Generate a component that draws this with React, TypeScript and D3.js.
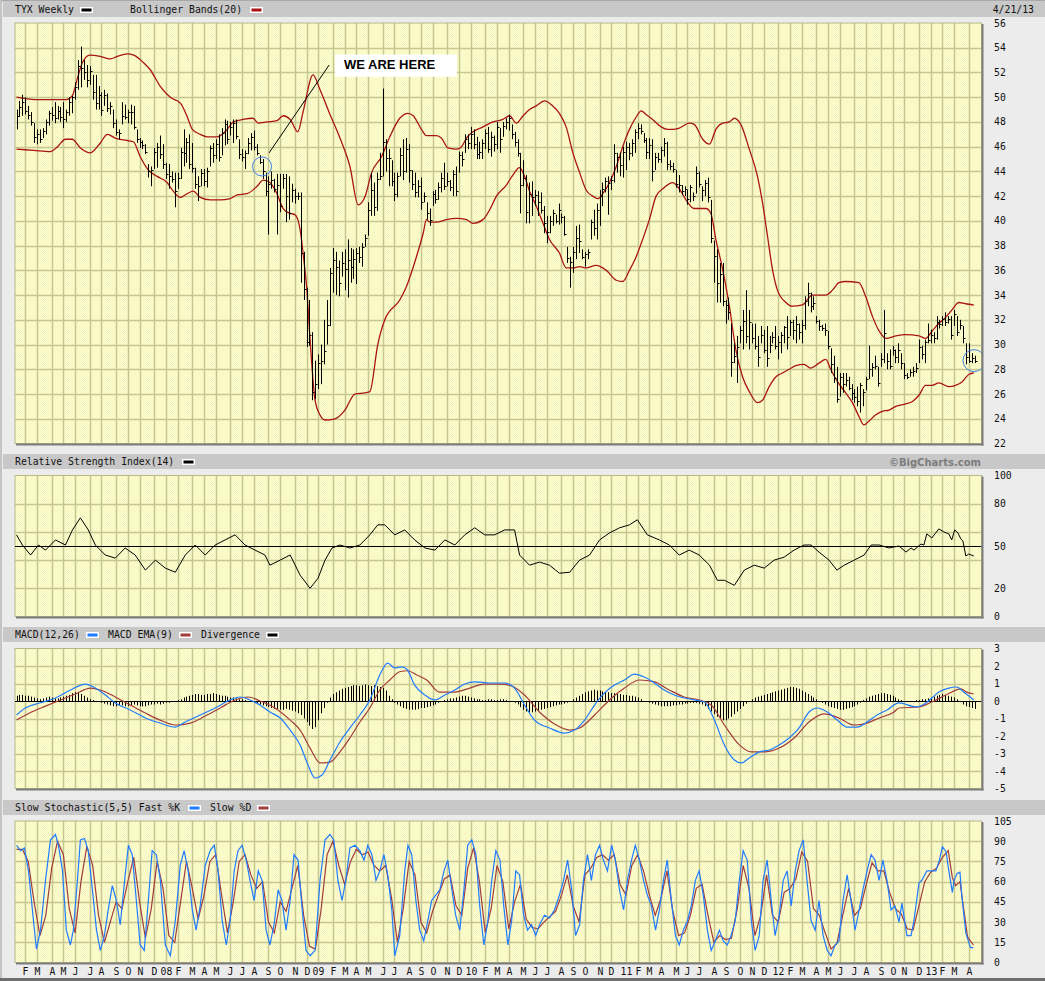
import React from "react";
import * as d3 from "d3";

// first weekly bar (Friday) — one bar per week, 328 bars
const FIRST_WEEK = new Date(2007, 0, 12);

// [high, low, close] per week (TYX = 30y yield x10)
const BARS: [number, number, number][] = [
  [49.0,47.4,48.5],[49.7,48.4,49.2],[50.2,48.5,49.6],[50.0,48.6,48.9],[49.3,48.2,48.6],[48.8,47.7,48.0],[47.9,46.3,46.8],[47.4,46.2,47.0],[47.4,46.3,46.6],[47.5,46.7,47.3],
  [48.2,47.0,48.0],[48.9,47.7,48.7],[49.2,48.1,48.6],[49.6,47.9,48.3],[49.3,48.2,48.9],[49.2,48.0,48.4],[49.6,47.5,48.2],[49.0,48.0,48.8],[50.0,48.5,49.6],[50.1,48.7,50.0],
  [51.2,49.8,50.8],[53.0,50.6,52.5],[54.1,50.8,52.4],[53.0,51.4,52.0],[52.6,50.8,51.4],[52.5,51.0,52.1],[51.8,49.8,50.4],[51.8,49.0,49.5],[50.9,49.0,50.2],[50.4,48.5,49.0],
  [50.6,49.3,50.2],[50.3,48.8,49.1],[49.6,48.6,49.3],[49.0,47.5,47.9],[48.2,46.9,47.2],[47.4,46.6,47.1],[49.6,47.8,48.5],[49.4,48.2,48.4],[49.0,47.9,48.8],[49.4,47.8,48.8],
  [49.3,47.4,47.6],[47.4,46.3,46.6],[46.7,45.9,46.4],[46.5,45.8,46.1],[46.2,45.4,45.6],[44.6,43.5,44.0],[44.4,42.8,44.1],[45.9,44.2,45.6],[46.3,44.3,46.0],[46.9,45.0,45.4],
  [46.2,44.2,44.6],[44.7,43.4,43.8],[44.6,42.6,43.6],[44.0,43.1,43.4],[43.9,41.1,42.4],[43.9,42.6,43.5],[45.9,43.4,45.6],[47.4,44.4,45.5],[46.7,44.7,46.4],[47.0,44.2,44.6],
  [46.3,43.9,44.3],[44.3,42.6,43.0],[43.6,41.6,42.8],[44.2,42.8,43.9],[44.2,42.8,43.2],[44.3,42.7,44.0],[46.1,44.4,45.9],[46.3,44.7,45.3],[46.6,45.0,46.2],[47.0,44.8,45.2],
  [47.5,45.3,47.1],[48.2,46.1,47.8],[48.1,46.2,46.6],[48.0,46.9,47.6],[48.2,46.3,47.9],[48.2,46.6,46.9],[46.6,45.0,45.4],[45.8,44.8,45.2],[45.7,44.2,45.5],[46.7,45.4,46.3],
  [47.1,45.7,46.8],[47.3,45.7,46.0],[46.2,45.3,45.5],[45.3,44.6,44.8],[45.0,43.4,44.0],[43.9,42.0,42.4],[43.6,38.9,43.0],[44.0,42.6,43.3],[43.4,42.3,42.6],[43.8,38.9,42.9],
  [43.8,40.7,41.2],[43.8,42.6,43.5],[43.8,39.9,42.0],[43.6,40.1,40.6],[43.0,41.5,42.5],[42.6,41.4,42.0],[42.3,41.7,42.0],[42.3,35.0,37.4],[37.5,33.6,34.5],[34.6,29.8,30.2],
  [33.6,29.9,30.8],[31.0,25.5,26.2],[28.7,25.6,26.8],[29.2,26.4,28.5],[30.0,26.8,28.7],[32.0,28.4,29.5],[33.6,30.0,31.6],[36.2,31.5,35.8],[37.8,34.2,36.8],[37.5,34.0,36.3],
  [36.8,33.9,35.0],[37.5,35.5,36.6],[37.7,34.4,36.1],[38.5,33.8,36.8],[37.8,35.0,36.3],[37.7,35.3,36.9],[37.8,34.9,37.4],[37.9,36.6,37.1],[38.2,36.3,37.9],[38.9,37.9,38.6],
  [41.5,38.8,40.9],[43.9,40.4,42.5],[43.1,40.4,41.1],[43.9,40.8,43.4],[45.5,43.3,43.6],[50.7,43.6,46.4],[46.6,44.0,45.1],[45.8,42.8,45.1],[44.9,42.8,43.2],[43.9,41.6,42.2],
  [43.9,41.9,43.6],[45.9,43.6,45.3],[46.6,43.3,44.0],[46.7,43.9,45.8],[46.2,43.1,44.1],[44.1,42.5,43.0],[43.9,41.9,42.3],[43.3,41.9,42.8],[43.5,40.9,41.5],[42.3,41.5,42.0],
  [41.5,40.1,40.6],[41.0,39.6,40.1],[42.4,41.2,42.2],[42.5,41.4,41.8],[43.1,41.7,42.7],[43.9,42.3,43.5],[44.7,42.5,42.8],[43.9,42.8,43.2],[43.3,42.4,42.7],[44.1,42.0,43.8],
  [44.4,42.0,42.4],[45.6,43.9,45.3],[45.6,44.4,45.0],[47.0,45.5,46.6],[47.0,45.8,46.3],[47.6,45.8,47.0],[47.4,45.8,46.2],[46.8,45.0,45.4],[46.4,45.0,45.6],[46.6,45.0,46.3],
  [47.4,45.8,47.1],[47.6,45.5,45.8],[47.2,45.2,46.8],[46.9,45.6,46.2],[48.0,45.8,47.6],[47.5,45.5,46.6],[48.0,46.8,47.7],[48.3,47.4,48.0],[48.6,47.3,48.3],[47.8,46.6,47.0],
  [47.2,46.0,46.4],[46.6,45.2,45.5],[45.5,40.6,42.9],[44.9,42.8,43.5],[43.7,39.8,40.7],[43.1,39.8,42.2],[43.2,40.4,41.9],[42.5,41.2,42.1],[42.4,40.4,41.5],[42.3,40.6,40.9],
  [41.2,39.0,39.8],[40.4,38.2,39.1],[40.4,39.0,40.0],[40.9,39.6,40.6],[40.5,39.8,40.0],[41.4,39.7,40.9],[40.6,39.8,40.3],[40.4,38.8,38.9],[37.9,36.6,37.0],[37.1,34.6,36.7],
  [37.9,35.8,37.5],[39.6,36.9,38.6],[39.7,37.4,38.4],[37.7,36.9,37.1],[37.5,36.3,37.3],[37.7,36.9,37.5],[40.1,38.5,39.9],[40.9,38.8,39.4],[41.4,38.5,40.9],[42.5,39.6,42.0],
  [43.1,41.2,42.6],[43.5,42.3,43.2],[43.6,40.5,43.1],[43.6,42.5,43.3],[46.2,43.1,45.5],[45.5,43.9,45.2],[45.5,43.6,44.5],[46.0,43.5,45.6],[46.4,44.1,46.0],[46.3,44.9,45.5],
  [46.6,45.2,46.3],[47.4,45.5,47.2],[47.9,46.6,47.5],[47.8,47.0,47.3],[47.1,46.3,46.5],[46.7,45.0,45.6],[46.7,45.0,46.1],[46.6,43.2,44.0],[45.5,44.1,45.2],[45.5,44.7,45.0],
  [46.0,44.7,45.7],[46.7,45.2,46.3],[46.4,44.1,44.6],[44.9,44.1,44.4],[44.7,43.9,44.2],[44.1,42.7,43.0],[43.7,42.3,42.9],[42.9,42.1,42.4],[42.8,42.0,42.6],[42.5,41.3,41.8],
  [42.9,41.5,42.7],[42.3,41.6,42.0],[44.4,42.2,43.9],[44.0,42.7,43.0],[42.8,41.6,42.5],[43.3,42.0,43.1],[43.5,41.5,41.9],[41.7,38.2,38.6],[38.4,35.0,37.2],[37.7,33.4,35.0],
  [36.6,33.4,35.7],[36.6,33.1,33.5],[33.6,31.7,33.2],[33.8,32.0,32.6],[31.7,27.4,28.6],[30.1,28.5,29.1],[30.7,26.9,29.8],[31.5,30.1,31.2],[32.8,29.6,31.9],[34.4,30.1,30.7],
  [32.8,29.6,31.8],[31.7,30.1,30.5],[31.7,29.6,29.9],[30.7,28.2,29.0],[31.5,30.1,30.8],[31.2,29.3,29.6],[31.5,28.2,28.9],[30.7,29.3,30.0],[31.0,30.1,30.6],[31.5,29.6,29.9],
  [30.7,28.8,30.2],[31.0,29.3,30.8],[31.5,30.1,31.4],[32.3,29.6,30.6],[32.0,30.7,31.8],[32.0,30.4,31.2],[32.3,30.1,31.7],[31.7,30.4,31.0],[32.0,30.1,31.6],[33.9,31.2,33.5],
  [35.0,33.1,34.2],[34.2,32.6,33.1],[33.9,32.8,33.4],[32.3,31.7,31.9],[32.0,31.1,31.5],[31.6,31.1,31.3],[31.7,30.7,31.2],[31.1,29.6,29.9],[29.7,27.7,28.4],[29.1,26.9,27.3],
  [28.2,25.3,25.6],[27.7,25.8,27.4],[27.7,26.1,26.8],[27.7,26.6,27.1],[27.4,26.3,26.5],[26.8,25.5,26.1],[26.4,25.3,25.8],[26.6,25.0,25.4],[26.9,24.5,26.7],[26.4,25.0,26.2],
  [27.4,26.3,27.2],[29.9,27.2,28.0],[28.5,27.4,28.2],[29.1,28.0,28.3],[28.2,26.6,26.9],[29.3,28.2,28.8],[32.8,28.5,30.9],[29.3,28.0,28.7],[29.6,28.0,28.3],[29.9,29.1,29.6],
  [29.6,28.5,29.0],[30.1,28.5,29.6],[29.3,28.0,28.5],[28.5,27.2,27.5],[27.7,27.2,27.4],[28.0,27.4,27.8],[28.2,27.4,27.9],[28.5,27.7,28.1],[30.4,28.5,29.8],[29.9,28.8,29.2],
  [30.4,28.5,30.2],[31.7,30.1,30.4],[31.2,30.1,30.8],[31.0,30.1,30.5],[32.3,30.4,31.8],[32.0,31.3,31.7],[32.3,31.5,32.1],[32.6,31.5,31.8],[32.3,31.7,32.1],[32.3,30.4,30.8],
  [32.8,31.5,32.5],[32.3,30.7,31.0],[32.0,31.2,31.6],[31.5,30.1,30.5],[30.1,28.4,29.0],[30.1,28.5,28.7],[29.3,28.5,28.9],[29.1,28.5,28.7]
];

// Bollinger Bands(20): [week, value]
const BB_UPPER: [number, number][] = [
  [0,50.0],[6.5,49.8],[9,49.8],[17,49.8],[19,50.1],[21,51.7],[22.5,52.8],[25,53.4],[28.6,53.3],[32,53.1],[34.4,53.3],[37.8,53.5],[40,53.4],
  [43.3,52.8],[45.7,52.2],[49,50.9],[52.5,50.0],[56,49.5],[58.3,48.4],[60,47.4],[62.7,47.0],[65,46.8],[68.5,46.8],[71.9,47.4],[74,48.0],
  [77.3,48.2],[80.7,48.3],[82.5,47.9],[85.5,48.0],[88.9,48.1],[91,48.5],[93.4,48.2],[96,47.2],[97.8,48.8],[101.2,51.8],[103.6,50.6],
  [107,48.6],[110.4,46.7],[113.8,44.4],[116.6,41.3],[119,42.0],[121.2,43.9],[124.6,45.2],[127.4,46.8],[130.8,48.3],[133.6,48.7],[135.4,48.5],
  [138.2,47.4],[139.9,46.9],[143.3,46.9],[145,46.7],[147.3,45.9],[150.2,45.8],[151.9,46.0],[153.6,46.7],[155.8,47.2],[159.2,47.6],[162.6,48.0],
  [166,48.2],[168.3,48.5],[170.6,47.9],[172.9,48.5],[175.1,49.0],[177.4,49.3],[180.2,49.7],[183,49.3],[185.3,48.7],[187.6,47.6],[189.9,45.5],
  [192.2,43.9],[194.4,42.5],[196.7,42.0],[198.4,41.8],[200.1,42.2],[202.4,43.1],[204.7,44.4],[206.9,46.0],[209.2,47.4],[211.5,48.4],[213.2,48.9],
  [214.9,48.6],[217.1,48.2],[220,47.6],[222.2,47.4],[223.9,47.4],[226.2,47.5],[229.6,47.9],[231.3,47.8],[234.2,46.6],[236.5,46.2],[238.7,47.4],
  [241,47.9],[243.3,48.0],[245,48.3],[247.2,47.8],[250.1,45.8],[252.9,43.6],[254.6,41.5],[256.3,38.8],[258,36.1],[259.7,34.4],[262.6,33.4],
  [264.8,33.1],[268.2,33.2],[271.6,34.0],[276.2,34.0],[278.5,34.4],[280.7,35.0],[283,35.1],[287.5,35.0],[289.8,33.9],[292.1,32.3],[294.4,31.1],
  [296.7,30.5],[300.1,30.7],[303.5,30.8],[308,30.7],[310.3,30.5],[312.5,31.1],[314.8,31.7],[317.1,32.2],[319.3,32.8],[321.6,33.4],[323.9,33.3],[326.7,33.2]
];
const BB_LOWER: [number, number][] = [
  [0,45.8],[5.8,45.7],[11.6,45.6],[14,46.0],[16.7,46.6],[19,46.6],[21.8,45.9],[25.2,45.5],[28.6,46.3],[31,47.0],[33.7,46.7],[37.8,46.5],[39.9,46.4],
  [42.2,45.2],[45,44.1],[48,43.6],[51.4,43.1],[53.5,42.4],[55.9,41.9],[58.3,42.2],[60.3,42.4],[62.7,41.9],[66.1,41.7],[69.5,41.7],[72.9,41.8],
  [75.3,42.1],[78.7,42.2],[82.1,42.8],[84.2,43.3],[86.5,43.1],[88.9,42.2],[91,41.0],[93.4,40.6],[95,40.5],[96.8,39.3],[97.8,37.4],[99.1,34.4],
  [100.2,30.4],[101.9,25.5],[103.6,24.3],[105.3,23.9],[108.7,24.0],[112.1,24.7],[115.5,26.0],[118.9,26.1],[120.6,26.2],[123.3,30.0],[125.7,32.0],
  [130.8,33.6],[133.1,34.7],[136.5,37.1],[138.8,39.0],[139.9,40.1],[141,39.9],[143.3,39.9],[146.7,40.1],[150.2,40.2],[153.6,40.1],[155.8,39.8],
  [159.2,40.1],[161.5,40.9],[163.8,42.0],[167.2,42.9],[169.4,43.7],[171.7,44.3],[173.4,43.6],[175.1,42.4],[177.4,41.2],[179.7,39.8],[181.9,38.5],
  [185.3,37.4],[187.6,36.2],[189.9,36.2],[192.2,36.3],[194.4,36.2],[197.8,36.4],[201.3,36.0],[204.7,35.2],[206.9,35.1],[209.2,36.0],[211.5,37.1],
  [213.7,38.5],[216,40.1],[218.3,42.0],[221.1,42.7],[223.9,43.1],[226.2,42.6],[228.5,41.7],[231.3,41.0],[235.3,41.0],[237,40.6],[238.7,38.5],
  [241,36.1],[243.3,33.1],[245.5,29.6],[247.8,27.4],[250.1,26.2],[252.9,25.3],[254.6,25.5],[256.9,26.6],[259.2,27.4],[261.4,27.7],[263.7,28.0],
  [266,28.3],[268.8,28.4],[271,28.1],[273.9,28.5],[276.2,28.8],[277.9,28.0],[280.2,27.0],[283,26.1],[285.3,25.3],[287.5,24.2],[289.2,23.5],
  [290.9,23.8],[293.2,24.3],[295.5,24.6],[297.8,24.7],[300.1,25.0],[303.5,25.2],[305.8,25.4],[308,25.9],[310.3,26.7],[312.5,26.7],[314.8,26.9],
  [318.2,26.6],[320.5,26.7],[322.8,27.0],[325.1,27.6],[326.7,27.7]
];

// Relative Strength Index(14)
const RSI14: [number, number][] = [
  [0,57.9],[2,50.7],[4.8,43.6],[7.5,50.7],[9.9,47.1],[13.3,54.3],[16.7,50.7],[19.1,61.4],[21.8,70],[24.5,61.4],[26.9,50.7],[30.3,43.6],[33.7,41.4],
  [37.1,48.6],[40.5,43.6],[44,32.9],[47.4,40],[50.8,34.3],[54.2,31.4],[57.6,43.6],[61,50.7],[64.4,43.6],[67.8,50.7],[71.2,54.3],[74.6,57.9],
  [78,50.7],[81.4,47.1],[84.8,43.6],[86.5,36.4],[90,40],[93.4,43.6],[96.8,29.3],[100.2,20],[102.9,27.1],[105.3,40],[107.7,48.6],[110.4,50.7],
  [113.8,48.6],[117.2,50.7],[120.6,57.9],[123.3,65],[125.7,65],[129.1,57.9],[132.5,61.4],[135.9,54.3],[139.4,48.6],[142.8,47.1],[146.2,54.3],
  [149.6,50.7],[153,57.9],[156.4,62.9],[159.8,57.9],[163.2,57.9],[166.6,61.4],[170,61.4],[171.7,43.6],[175.1,36.4],[178.5,38.6],[181.9,36.4],
  [185.3,30.7],[188.8,31.4],[192.2,40],[195.6,43.6],[199,54.3],[202.4,59.3],[205.8,62.9],[209.2,65],[211.9,68.6],[215.3,57.9],[219.4,54.3],
  [222.8,50.7],[226.2,43.6],[229.6,47.1],[233,43.6],[236.5,36.4],[239.2,25.7],[241.6,25.7],[245,22.1],[248.4,32.9],[251.8,36.4],[255.2,34.3],
  [258.6,40],[262,42.1],[265.4,47.1],[268.8,50.7],[271.2,50.7],[273.9,45.7],[277.3,40],[280,32.9],[282.5,36.4],[285.9,40],[289.3,43.6],
  [291.7,50.7],[294.4,50.7],[297.8,48.6],[301.2,50],[303.6,45.7],[305.3,48.6],[306.3,47.1],[308.7,51.4],[309.7,50.7],[310.7,58.6],[312.4,55.7],
  [314.8,62.1],[316.5,60],[318.2,58.6],[319.2,54.3],[320.2,61.4],[321.3,59.3],[322.3,55],[323,53.6],[324,42.9],[325,44.3],[326.7,42.9]
];

// MACD(12,26) and MACD EMA(9)
const MACD_LINE: [number, number][] = [
  [0,-0.8],[3,-0.4],[8.2,-0.1],[13.3,0.17],[18.4,0.63],[23.5,0.97],[26.9,0.74],[30.3,0.34],[33.7,-0.11],[38.8,-0.51],[44,-0.97],[49,-1.26],
  [54.2,-1.49],[57.6,-1.2],[62.7,-0.8],[67.8,-0.4],[72.9,0.06],[76.3,0.23],[79.7,0.06],[83.1,-0.23],[86.5,-0.63],[90,-0.97],[93.4,-1.66],
  [96.8,-2.51],[99.5,-3.66],[101.9,-4.4],[104.3,-4.23],[107,-3.37],[110.4,-2.34],[113.8,-1.54],[117.2,-0.8],[120.6,0.06],[124,1.49],[126.7,2.17],
  [129.1,1.89],[131.5,1.95],[133.3,1.8],[135.9,0.91],[139.4,0.34],[142.8,0.06],[146.2,0.34],[149.6,0.63],[153,0.97],[156.4,1.09],[161.5,1.03],
  [166.6,1.03],[170,0.74],[173.4,-0.23],[176.8,-1.09],[181.9,-1.54],[187,-1.83],[190.5,-1.66],[193.9,-1.09],[197.3,-0.23],[200.7,0.46],[204.1,0.91],
  [207.5,1.2],[210.9,1.54],[214.3,1.37],[217.7,1.03],[221.1,0.63],[224.5,0.34],[227.9,0.17],[231.3,0.06],[234.8,-0.06],[238.2,-1.09],[241.6,-2.51],
  [245,-3.37],[247.4,-3.54],[250.1,-3.26],[253.5,-2.91],[256.9,-2.8],[260.3,-2.51],[263.7,-2.11],[267.1,-1.54],[270.5,-0.63],[273.3,-0.4],
  [276.7,-0.63],[280.1,-1.09],[283.5,-1.49],[286.9,-1.49],[290.3,-1.2],[293.7,-0.8],[297.1,-0.51],[301.2,-0.11],[307,-0.34],[310.4,-0.11],
  [312.4,0.17],[314.8,0.51],[318.2,0.74],[320.9,0.8],[323.3,0.51],[326.7,0.06]
];
const MACD_SIGNAL: [number, number][] = [
  [0,-1.09],[5.1,-0.63],[9.9,-0.29],[15,0.06],[20.1,0.4],[25.2,0.74],[28.6,0.63],[33.7,0.23],[38.8,-0.23],[44,-0.69],[49,-1.09],[54.2,-1.37],
  [59.3,-1.26],[64.4,-0.86],[69.5,-0.4],[74.6,0.06],[79,0.23],[83.1,0],[88.2,-0.4],[93.4,-1.09],[96.8,-1.66],[100.2,-2.69],[103.6,-3.54],
  [107,-3.49],[110.4,-2.91],[113.8,-2.11],[117.2,-1.2],[120.6,-0.4],[124,0.63],[127.4,1.2],[130.8,1.67],[133.5,1.73],[136.6,1.49],[140,1.2],
  [144.4,0.51],[149.6,0.51],[154.7,0.74],[159.8,0.97],[164.9,0.97],[169,0.86],[173.4,0.34],[178.5,-0.63],[183.6,-1.31],[188.8,-1.66],[192.2,-1.54],
  [197.3,-0.8],[202.4,0.06],[207.5,0.74],[212.6,1.2],[217.7,1.09],[222.8,0.63],[227.9,0.23],[233,0.06],[237.1,-0.23],[241.6,-1.37],[246.7,-2.51],
  [250.8,-2.91],[255.2,-2.91],[260.3,-2.69],[265.4,-2.11],[270.5,-1.2],[275.6,-0.74],[280.7,-0.97],[285.9,-1.37],[290.3,-1.26],[294.4,-0.97],
  [299.5,-0.63],[301.2,-0.4],[308,-0.34],[312.4,-0.06],[317.2,0.34],[322.3,0.69],[324.3,0.51],[326.7,0.4]
];
// Divergence histogram, one value per week
const MACD_DIVERGENCE: number[] = [
  0.3,0.35,0.35,0.3,0.3,0.25,0.2,
  0.15,0.1,0.15,0.2,0.25,0.2,0.15,0.15,0.2,
  0.25,0.3,0.35,0.45,0.5,0.5,0.4,0.3,
  0.2,0.1,0.05,0,-0.05,
  -0.1,-0.15,-0.2,-0.25,-0.3,-0.3,-0.25,-0.25,-0.3,-0.3,-0.25,-0.2,-0.25,-0.3,
  -0.3,-0.3,-0.25,-0.2,-0.2,-0.15,-0.2,-0.15,-0.1,-0.1,-0.05,0,
  0.05,0.1,0.2,0.25,0.3,0.35,0.4,0.4,0.35,0.35,0.4,0.4,0.45,0.4,0.35,0.3,0.3,0.25,0.2,
  0.2,0.15,0.1,0.1,0.05,0,-0.05,
  -0.1,-0.15,-0.2,-0.25,-0.3,-0.35,-0.4,-0.45,-0.45,-0.5,-0.5,-0.45,-0.5,-0.55,-0.6,-0.7,-0.8,
  -1.0,-1.2,-1.4,-1.6,-1.5,-1.1,-0.7,
  -0.4,-0.1,0.2,
  0.4,0.5,0.6,0.7,0.75,0.8,0.85,0.9,0.9,0.85,0.9,0.95,0.9,0.85,0.9,0.85,0.8,0.75,0.6,
  0.3,0.1,-0.1,-0.2,-0.3,-0.4,-0.45,-0.5,-0.5,-0.5,-0.45,-0.4,-0.4,-0.35,-0.3,-0.25,-0.2,-0.1,
  0,0.05,0.1,0.15,0.15,0.2,0.25,0.3,0.3,0.25,0.2,
  0.15,0.1,0.1,0.05,0.05,0.1,0.1,0.05,0.05,0.1,0.1,0.05,0,-0.05,-0.1,
  -0.2,-0.35,-0.5,-0.6,-0.65,-0.65,-0.6,-0.55,-0.5,-0.45,-0.4,-0.35,-0.3,-0.25,-0.2,-0.2,
  -0.15,-0.1,0,0.1,0.2,0.3,
  0.4,0.5,0.55,0.6,0.65,0.6,0.6,0.55,0.5,0.5,0.45,0.45,0.4,0.4,0.35,0.35,0.3,0.3,0.25,0.2,0.1,
  0,-0.05,-0.1,-0.15,-0.2,-0.25,-0.3,-0.3,-0.3,-0.3,-0.25,-0.25,-0.2,-0.2,-0.15,-0.15,-0.1,-0.1,-0.1,-0.15,-0.2,-0.3,
  -0.45,-0.6,-0.75,-0.9,-1.0,-1.1,-1.1,-1.0,-0.9,-0.75,-0.6,-0.45,-0.3,-0.15,
  0,0.1,0.2,0.25,0.3,0.35,0.4,0.45,0.5,0.55,0.6,0.65,0.7,0.75,0.8,0.8,0.75,0.7,0.6,0.5,0.4,0.3,0.2,0.1,0,
  -0.1,-0.2,-0.3,-0.35,-0.4,-0.45,-0.5,-0.5,-0.45,-0.4,-0.35,-0.3,-0.2,-0.1,
  0.05,0.15,0.25,0.3,0.35,0.4,0.45,0.45,0.4,0.35,0.3,0.2,0.1,
  0.05,0,-0.05,-0.05,0,0.05,0.05,0.1,0.1,
  0.15,0.2,0.25,0.3,0.35,0.4,0.35,0.3,0.25,0.2,
  0.1,-0.05,-0.2,-0.3,-0.35,-0.4,-0.45
];

// Slow Stochastic(5,5): Fast %K and Slow %D
const STOCH_K: [number, number][] = [
  [0,87],[1.4,83],[2.7,85],[4.1,68],[5.8,31],[6.8,10],[8.2,24],[9.9,61],[11.6,91],[13.3,95],[14.3,87],[15.7,68],[17,24],[18.4,13],[19.4,24],
  [20.8,61],[21.8,91],[23.2,92],[24.5,83],[25.9,54],[27.3,24],[28.6,9],[30,20],[31.3,39],[32.7,57],[34.1,46],[35.4,28],[37.1,65],[38.2,87],
  [39.5,80],[40.9,46],[42.2,13],[43.6,9],[45,46],[46.3,83],[47.7,80],[49.1,61],[50.8,13],[52.5,5],[54.2,31],[55.9,72],[57.2,83],[58.6,68],
  [60,39],[61.3,24],[62.7,42],[64.4,72],[66.1,83],[67.5,87],[68.8,68],[70.2,31],[71.6,13],[72.9,31],[74.3,68],[75.6,83],[77,87],[78.4,76],
  [79.7,61],[81.1,46],[82.5,68],[83.8,61],[85.2,24],[86.5,13],[87.9,28],[89.3,54],[90.6,46],[92,24],[93.4,46],[94.7,80],[96.1,76],[97.4,42],
  [98.8,9],[100.2,5],[101.9,9],[103.6,61],[105.3,91],[107,95],[108.3,91],[109.7,61],[111.1,46],[112.4,61],[113.8,85],[115.5,87],[117.2,83],
  [118.6,76],[119.9,87],[121.3,80],[122.7,61],[124,68],[125.4,80],[126.7,65],[128.1,39],[129.1,5],[130.8,20],[132.5,68],[133.6,87],[134.9,80],
  [136.3,46],[137.6,24],[139,16],[140.4,31],[141.7,46],[143.1,50],[144.5,54],[145.9,68],[147.2,76],[148.6,54],[149.9,35],[151.3,24],[152.7,54],
  [154,87],[155.4,91],[156.8,80],[158.1,42],[159.5,13],[160.9,31],[162.2,61],[163.6,83],[165,76],[166.3,42],[167.7,13],[169,31],[170.4,68],
  [171.7,65],[173.1,35],[174.4,24],[175.8,28],[177.2,20],[178.5,28],[180.2,35],[181.9,33],[183.6,39],[185.3,50],[186.7,61],[188.1,76],[189.5,54],
  [190.8,20],[192.2,28],[193.5,61],[194.9,80],[196.2,61],[197.6,80],[199,87],[200.3,76],[201.7,68],[203.1,87],[204.4,76],[205.8,54],[207.2,39],
  [208.5,61],[209.9,76],[211.2,87],[212.6,76],[214,61],[215.3,50],[216.7,42],[218.1,24],[219.4,39],[220.8,61],[222.1,76],[223.5,46],[224.9,20],
  [226.2,13],[227.6,24],[229,31],[230.3,42],[231.7,61],[233,68],[234.4,50],[235.8,24],[237.1,9],[238.5,16],[239.9,24],[241.2,16],[242.6,13],
  [243.9,20],[245.3,31],[246.7,61],[248,83],[249.4,76],[250.8,31],[252.1,9],[253.5,20],[254.8,61],[256.2,76],[257.6,46],[258.9,20],[260.3,35],
  [261.7,61],[263,68],[264.4,42],[265.8,68],[267.1,83],[268.5,91],[269.8,61],[271.2,31],[272.6,24],[273.9,46],[275.3,20],[276.7,9],[278,5],
  [279.4,13],[280.7,16],[282.1,46],[283.5,65],[284.8,46],[286.2,24],[287.6,39],[288.9,54],[290.3,68],[291.7,80],[293,76],[294.4,61],[295.7,76],
  [297.1,61],[298.5,39],[299.8,42],[301.2,30],[302.2,44],[303.9,20],[305.3,20],[306.3,31],[308,59],[309,61],[310.7,68],[312.4,68],[313.8,68],
  [315,76],[316,86],[317.3,82],[318,71],[319.4,52],[320,61],[321,66],[322,67],[322.7,48],[324,22],[325.6,11],[326.6,11]
];
const STOCH_D: [number, number][] = [
  [0,84],[2,84],[4,75],[6,45],[8,20],[10,35],[12,70],[14,90],[16,80],[18,40],[20,22],[22,60],[24,86],[26,72],[28,35],[30,15],[32,30],[34,45],
  [36,40],[38,60],[40,78],[42,45],[44,18],[46,40],[48,75],[50,55],[52,20],[54,15],[56,45],[58,75],[60,55],[62,32],[64,50],[66,75],[68,80],
  [70,50],[72,22],[74,45],[76,75],[78,80],[80,65],[82,55],[84,60],[86,30],[88,22],[90,45],[92,38],[94,55],[96,72],[98,35],[100,12],[102,10],
  [104,40],[106,80],[108,90],[110,72],[112,58],[114,75],[116,84],[118,80],[120,82],[122,72],[124,68],[126,72],[128,48],[130,15],[132,40],
  [134,75],[136,65],[138,30],[140,22],[142,38],[144,50],[146,62],[148,65],[150,42],[152,35],[154,70],[156,85],[158,60],[160,22],[162,40],
  [164,72],[166,60],[168,25],[170,45],[172,58],[174,32],[176,26],[178,25],[180,30],[182,34],[184,38],[186,50],[188,65],[190,42],[192,30],
  [194,65],[196,70],[198,78],[200,80],[202,76],[204,80],[206,58],[208,50],[210,72],[212,80],[214,68],[216,50],[218,35],[220,48],[222,68],
  [224,38],[226,20],[228,22],[230,35],[232,55],[234,58],[236,35],[238,15],[240,20],[242,17],[244,18],[246,40],[248,72],[250,55],[252,20],
  [254,35],[256,65],[258,35],[260,30],[262,52],[264,55],[266,62],[268,82],[270,75],[272,40],[274,35],[276,22],[278,10],[280,14],[282,35],
  [284,55],[286,35],[288,40],[290,58],[292,74],[294,68],[296,68],[298,52],[300,40],[302,36],[304,25],[306,24],[308,42],[310,60],[312,67],
  [314,70],[316,78],[318,83],[319.4,63],[320.5,57],[322,60],[323.2,41],[324.6,19],[326.6,13]
];

const MONTH_LABELS = [
  "F","M","A","M","J","J","A","S","O","N","D",
  "08","F","M","A","M","J","J","A","S","O","N","D",
  "09","F","M","A","M","J","J","A","S","O","N","D",
  "10","F","M","A","M","J","J","A","S","O","N","D",
  "11","F","M","A","M","J","J","A","S","O","N","D",
  "12","F","M","A","M","J","J","A","S","O","N","D",
  "13","F","M","A"
];
const PRICE_TICKS = [56,54,52,50,48,46,44,42,40,38,36,34,32,30,28,26,24,22];
const RSI_TICKS = [100,80,50,20,0];
const RSI_GRID = [20,40,60,80];
const MACD_TICKS = [3,2,1,0,-1,-2,-3,-4,-5];
const STOCH_TICKS = [105,90,75,60,45,30,15,0];

// annotations (week, value)
const CIRCLES = [
  { week: 83.8, value: 44.4, r: 9.5 },
  { week: 326.8, value: 28.7, r: 11 },
];
const POINTER = { from: [86.2, 45.5], to: [106.7, 52.6] };
const CALLOUT = { text: "WE ARE HERE", week0: 108.7, week1: 150.3, top: 53.45, bottom: 51.65 };

const MONO = "'DejaVu Sans Mono', monospace";
const BLUE = "#1f7cff";
const BROWN = "#a23c3c";
const BAND = "#aa1414";
const GRID = "#c6c690";

export default function App() {
  const W = 1045, H = 981;
  const L = 15, R = 981.5;
  const x = d3.scaleLinear().domain([0, 327]).range([16.5, 974.6]);
  const yP = d3.scaleLinear().domain([22, 56]).range([443.5, 23]);
  const yR = d3.scaleLinear().domain([0, 100]).range([616.5, 475.5]);
  const yM = d3.scaleLinear().domain([-5, 3]).range([788.5, 648.5]);
  const yS = d3.scaleLinear().domain([0, 105]).range([962.5, 821]);

  const months = d3.timeMonth.range(new Date(2007, 1, 1), new Date(2013, 4, 1));
  const gridX = months.map((m) => {
    const days = Math.round((+m - +FIRST_WEEK) / 864e5);
    return Math.round(x(Math.ceil(days / 7))) + 0.5;
  });

  const panels = [
    { id: "pp", y: yP, top: 23, bottom: 443.5, grid: d3.range(24, 56, 2) },
    { id: "pr", y: yR, top: 475.5, bottom: 616.5, grid: RSI_GRID },
    { id: "pm", y: yM, top: 648.5, bottom: 788.5, grid: [-4, -3, -2, -1, 1, 2] },
    { id: "ps", y: yS, top: 821, bottom: 962.5, grid: [15, 30, 45, 60, 75, 90] },
  ];

  const mk = (y: any, curve: any = d3.curveLinear) =>
    d3.line<[number, number]>().x((d) => x(d[0])).y((d) => y(d[1])).curve(curve);

  const headers = [
    { top: 2, items: [{ t: "TYX Weekly", x: 15, sw: 80, c: "#000" }, { t: "Bollinger Bands(20)", x: 130, sw: 250, c: BAND }] },
    { top: 454, items: [{ t: "Relative Strength Index(14)", x: 15, sw: 182, c: "#000" }] },
    { top: 627, items: [{ t: "MACD(12,26)", x: 15, sw: 86, c: BLUE }, { t: "MACD EMA(9)", x: 108, sw: 179, c: BROWN }, { t: "Divergence", x: 201, sw: 266, c: "#000" }] },
    { top: 800, items: [{ t: "Slow Stochastic(5,5) Fast %K", x: 15, sw: 188, c: BLUE }, { t: "Slow %D", x: 210, sw: 257, c: BROWN }] },
  ];

  const axisLabels = [
    ...PRICE_TICKS.map((v) => ({ v: String(v), y: yP(v) })),
    ...RSI_TICKS.map((v) => ({ v: String(v), y: yR(v) })),
    ...MACD_TICKS.map((v) => ({ v: String(v), y: yM(v) })),
    ...STOCH_TICKS.map((v) => ({ v: String(v), y: yS(v) })),
  ];

  return (
    <svg width={W} height={H} viewBox={`0 0 ${W} ${H}`} style={{ position: "absolute", left: 0, top: 0, display: "block" }}>
      <defs>
        <pattern id="bg" width="2" height="2" patternUnits="userSpaceOnUse">
          <rect width="2" height="2" fill="#ffffd4" />
          <rect width="1" height="1" fill="#f4f4bc" />
          <rect x="1" y="1" width="1" height="1" fill="#f4f4bc" />
        </pattern>
        {panels.map((p) => (
          <clipPath id={`c${p.id}`} key={p.id}>
            <rect x={L} y={p.top} width={R - L} height={p.bottom - p.top} />
          </clipPath>
        ))}
      </defs>
      <rect width={W} height={H} fill="#ececec" />
      <rect x={0} y={0} width={W} height={1.5} fill="#a8a8a8" />
      <rect x={0} y={0} width={2} height={H} fill="#c4c4c4" />
      <rect x={0} y={H - 3} width={W} height={3} fill="#6e6e6e" />

      {headers.map((h, hi) => (
        <g key={hi}>
          <rect x={3} y={h.top} width={W - 3} height={15} fill="#c8c8c8" />
          {h.items.map((it, k) => (
            <g key={k}>
              <text x={it.x} y={h.top + 11} fontFamily={MONO} fontSize={9.8} fill="#111">{it.t}</text>
              <rect x={it.sw} y={h.top + 5} width={13} height={6} fill="#fff" />
              <rect x={it.sw + 1.5} y={h.top + 6.5} width={10} height={3} fill={it.c} />
            </g>
          ))}
        </g>
      ))}
      <text x={1034} y={13} textAnchor="end" fontFamily={MONO} fontSize={9.8} fill="#111">4/21/13</text>
      <text x={981} y={465.5} textAnchor="end" fontFamily="'DejaVu Sans', sans-serif" fontWeight="bold" fontSize={10} fill="#7c7c7c">©BigCharts.com</text>

      {panels.map((p) => (
        <g key={p.id}>
          <rect x={L} y={p.top} width={R - L} height={p.bottom - p.top} fill="url(#bg)" />
          {gridX.map((gx, i) => (
            <line key={i} x1={gx} x2={gx} y1={p.top} y2={p.bottom} stroke={GRID} strokeWidth={1.5} />
          ))}
          {p.grid.map((g) => (
            <line key={g} x1={L} x2={R} y1={Math.round(p.y(g)) + 0.5} y2={Math.round(p.y(g)) + 0.5} stroke={GRID} strokeWidth={1.5} />
          ))}
          <rect x={L} y={p.top} width={R - L} height={p.bottom - p.top} fill="none" stroke="#b8b888" strokeWidth={1} />
          <line x1={R + 1} x2={R + 1} y1={p.top + 1} y2={p.bottom + 2} stroke="#7c7c7c" strokeWidth={2} />
          <line x1={L + 1} x2={R + 2} y1={p.bottom + 1} y2={p.bottom + 1} stroke="#7c7c7c" strokeWidth={2} />
        </g>
      ))}

      {/* price panel */}
      <g clipPath="url(#cpp)">
        <path d={mk(yP, d3.curveMonotoneX)(BB_UPPER) || ""} fill="none" stroke={BAND} strokeWidth={1.3} />
        <path d={mk(yP, d3.curveMonotoneX)(BB_LOWER) || ""} fill="none" stroke={BAND} strokeWidth={1.3} />
        {BARS.map((b, i) => {
          const bx = Math.round(x(i)) + 0.5;
          return (
            <g key={i}>
              <line x1={bx} x2={bx} y1={yP(b[0])} y2={yP(b[1])} stroke="#000" strokeWidth={1} />
              <line x1={bx} x2={bx + 2} y1={Math.round(yP(b[2])) + 0.5} y2={Math.round(yP(b[2])) + 0.5} stroke="#000" strokeWidth={1} />
            </g>
          );
        })}
        {CIRCLES.map((c, i) => (
          <circle key={i} cx={x(c.week)} cy={yP(c.value)} r={c.r} fill="none" stroke="#3f7fe6" strokeWidth={1} />
        ))}
        <line x1={x(POINTER.from[0])} y1={yP(POINTER.from[1])} x2={x(POINTER.to[0])} y2={yP(POINTER.to[1])} stroke="#000" strokeWidth={1} />
        <rect x={x(CALLOUT.week0)} y={yP(CALLOUT.top)} width={x(CALLOUT.week1) - x(CALLOUT.week0)} height={yP(CALLOUT.bottom) - yP(CALLOUT.top)} fill="#fff" />
        <text x={x(CALLOUT.week0) + 9} y={yP(CALLOUT.top) + 14.5} fontFamily="'Liberation Sans', Arial, sans-serif" fontWeight="bold" fontSize={13} fill="#000">{CALLOUT.text}</text>
      </g>

      {/* RSI */}
      <g clipPath="url(#cpr)">
        <line x1={L} x2={R} y1={Math.round(yR(50)) + 0.5} y2={Math.round(yR(50)) + 0.5} stroke="#000" strokeWidth={1} />
        <path d={mk(yR)(RSI14) || ""} fill="none" stroke="#000" strokeWidth={1} />
      </g>

      {/* MACD */}
      <g clipPath="url(#cpm)">
        {MACD_DIVERGENCE.map((v, i) => {
          const bx = Math.round(x(i)) + 0.5;
          return <line key={i} x1={bx} x2={bx} y1={yM(0)} y2={yM(v)} stroke="#000" strokeWidth={1} />;
        })}
        <line x1={L} x2={R} y1={Math.round(yM(0)) + 0.5} y2={Math.round(yM(0)) + 0.5} stroke="#000" strokeWidth={1} />
        <path d={mk(yM, d3.curveMonotoneX)(MACD_SIGNAL) || ""} fill="none" stroke={BROWN} strokeWidth={1.2} />
        <path d={mk(yM, d3.curveMonotoneX)(MACD_LINE) || ""} fill="none" stroke={BLUE} strokeWidth={1.2} />
      </g>

      {/* Stochastic */}
      <g clipPath="url(#cps)">
        <path d={mk(yS)(STOCH_D) || ""} fill="none" stroke={BROWN} strokeWidth={1.2} />
        <path d={mk(yS)(STOCH_K) || ""} fill="none" stroke={BLUE} strokeWidth={1.2} />
      </g>

      {/* right axis labels */}
      {axisLabels.map((a, i) => (
        <text key={i} x={994} y={a.y} dominantBaseline="central" fontFamily={MONO} fontSize={9.8} fill="#111">{a.v}</text>
      ))}

      {/* month labels */}
      {MONTH_LABELS.map((m, i) => (
        <text key={i} x={gridX[i]} y={975} textAnchor="middle" fontFamily={MONO} fontSize={9.8} fill="#111">{m}</text>
      ))}
    </svg>
  );
}
